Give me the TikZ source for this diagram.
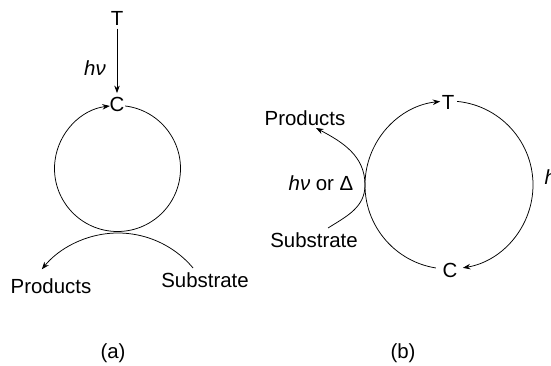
\documentclass[tikz,border=0pt]{standalone}
\usepackage{fontspec}
\setmainfont{Liberation Sans}
\usetikzlibrary{arrows.meta, calc}

\begin{document}
\begin{tikzpicture}[x=1bp, y=1bp, font=\fontsize{20.5}{24}\selectfont, line width=0.75bp,
  flow/.style={-{Stealth[length=7.5bp, width=5.5bp]}}]
\useasboundingbox (0,0) rectangle (551,365);
% (a) cycle with photoexcitation
\begin{scope}
\node (ta) at (117,347) {T};
\node (ca) at (117,261) {C};
\node (hva) at (95,297) {\textit{hν}};
\draw[flow] (ta) -- (ca);
\coordinate (oa) at (117.5,196.5);
\draw[flow] ($(oa)+(83:63)$) arc[start angle=83, end angle=-263, radius=63];
\node (prodA) at (51,79) {Products};
\node (subA) at (205,85) {Substrate};
\coordinate (ra) at (118,34);
\draw[flow] ($(ra)+(40:98)$) arc[start angle=40, end angle=141, radius=98];
\node (la) at (113,12) {(a)};
\end{scope}
% (b) cycle with thermal step
\begin{scope}
\coordinate (ob) at (449,180);
\node (tb) at (448,263) {T};
\node (cb) at (450,95) {C};
\draw[flow] ($(ob)+(261:84)$) arc[start angle=261, end angle=96, radius=84];
\draw[flow] ($(ob)+(84.5:84)$) arc[start angle=84.5, end angle=-80.5, radius=84];
\node[anchor=west] (hvb) at (541,188) {\textit{hν}};
\coordinate (kb) at ($(ob)+(180:84)$);
\coordinate (sb) at (328,137);
\coordinate (pb) at (316,237);
\node (prodB) at (305,247) {Products};
\node (hvd) at (321,182) {\textit{hν} or Δ};
\node (subB) at (314,125) {Substrate};
\draw[flow] (sb) to[out=32, in=-90] (kb) to[out=90, in=-28] (pb);
\node (lb) at (403,12) {(b)};
\end{scope}
\end{tikzpicture}
\end{document}
